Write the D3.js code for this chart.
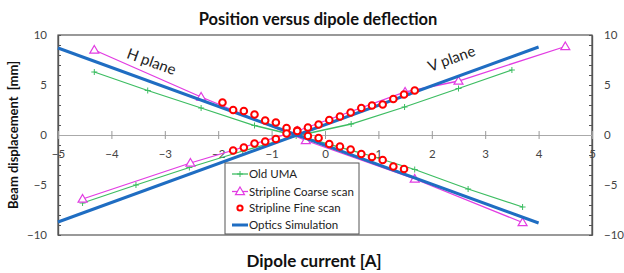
<!DOCTYPE html>
<html>
<head>
<meta charset="utf-8">
<script src="https://cdn.jsdelivr.net/npm/d3@7"></script>
<style>
  body { margin: 0; background: #fff; }
  svg { display: block; font-family: Lato, "Open Sans", sans-serif; }
</style>
</head>
<body>
<svg id="chart" width="624" height="273"></svg>
<script>
// Optics simulation (two straight lines)
const simX = [-5, 4];
const simH = [8.7, -8.8];
const simV = [-8.7, 8.8];

// Old UMA
const umaHX = [-4.32, -3.32, -2.32, -1.32, -0.32, 0.68, 1.68, 2.68, 3.7];
const umaH = [6.3, 4.45, 2.7, 0.95, -0.35, -1.8, -3.45, -5.4, -7.2];
const umaVX = [-4.54, -3.54, -2.54, -1.54, -0.54, 0.49, 1.49, 2.5, 3.5];
const umaV = [-6.8, -5.0, -3.25, -1.6, -0.1, 1.1, 2.8, 4.65, 6.5];

// Stripline coarse scan
const coarseHX = [-4.32, -2.32, -0.36, 1.68, 3.7];
const coarseH = [8.5, 3.8, -0.55, -4.4, -8.75];
const coarseVX = [-4.54, -2.52, -0.52, 1.5, 2.5, 4.5];
const coarseV = [-6.4, -2.8, 0.4, 4.3, 5.4, 8.85];

// Stripline fine scan
const fineHX = [-1.92, -1.72, -1.52, -1.32, -1.12, -0.92, -0.72, -0.52, -0.32,
                -0.12, 0.08, 0.28, 0.48, 0.68, 0.88, 1.08, 1.28, 1.48];
const fineH = [3.25, 2.5, 2.4, 2.05, 1.45, 1.25, 0.7, 0.45, -0.1,
               -0.3, -0.9, -1.15, -1.45, -1.9, -2.2, -2.5, -3.15, -3.4];
const fineVX = [-1.72, -1.52, -1.32, -1.12, -0.92, -0.72, -0.52, -0.32, -0.12,
                0.08, 0.28, 0.48, 0.68, 0.88, 1.08, 1.28, 1.48, 1.68];
const fineV = [-1.55, -1.25, -0.85, -0.65, -0.4, 0.15, 0.4, 0.75, 1.05,
               1.5, 1.85, 2.25, 2.7, 2.95, 3.05, 3.6, 4.05, 4.45];

const xTicks = [-5, -4, -3, -2, -1, 0, 1, 2, 3, 4, 5];
const yTicks = [-10, -5, 0, 5, 10];
const yMinor = d3.range(-10, 11, 1);

const legendNames = ["Old UMA", "Stripline Coarse scan", "Stripline Fine scan", "Optics Simulation"];

const GREEN = "#3dbd62", MAGENTA = "#e23ce2", RED = "#ff0000", BLUE = "#1f6dc2";

const plot = { left: 58, right: 592, top: 35, bottom: 235 };

const svg = d3.select("#chart");
const x = d3.scaleLinear().domain([-5, 5]).range([plot.left, plot.right]);
const y = d3.scaleLinear().domain([-10, 10]).range([plot.bottom, plot.top]);

const zip = (xs, ys) => xs.map((v, i) => [v, ys[i]]);
const line = d3.line().x(d => x(d[0])).y(d => y(d[1]));

// Title
svg.append("text")
    .attr("x", 318).attr("y", 25)
    .attr("text-anchor", "middle")
    .attr("font-size", 16.5).attr("font-weight", "bold")
    .attr("fill", "#111")
    .text("Position versus dipole deflection");

// Frame
svg.append("rect")
    .attr("x", plot.left).attr("y", plot.top)
    .attr("width", plot.right - plot.left).attr("height", plot.bottom - plot.top)
    .attr("fill", "none").attr("stroke", "#555").attr("stroke-width", 1.2);

// Left axis: minor ticks inside, labels at multiples of 5
function styleAxis(g) {
    g.select(".domain").attr("stroke", "#555").attr("stroke-width", 1.2);
    g.selectAll(".tick line").attr("stroke", "#555");
    g.selectAll("text").attr("font-size", 11.5).attr("fill", "#444")
        .attr("font-family", "Lato, 'Open Sans', sans-serif");
}
svg.append("g").attr("transform", `translate(${plot.left},0)`)
    .call(d3.axisLeft(y).tickValues(yMinor).tickFormat("").tickSizeInner(-3).tickSizeOuter(0))
    .call(styleAxis);
svg.append("g").attr("transform", `translate(${plot.left},0)`)
    .call(d3.axisLeft(y).tickValues(yTicks).tickSizeInner(0).tickSizeOuter(0).tickPadding(11))
    .call(styleAxis);
svg.append("g").attr("transform", `translate(${plot.right},0)`)
    .call(d3.axisRight(y).tickValues(yMinor).tickFormat("").tickSizeInner(-3).tickSizeOuter(0))
    .call(styleAxis);
svg.append("g").attr("transform", `translate(${plot.right},0)`)
    .call(d3.axisRight(y).tickValues(yTicks).tickSizeInner(0).tickSizeOuter(0).tickPadding(12))
    .call(styleAxis);

// X axis through y = 0
const xAxis = svg.append("g").attr("transform", `translate(0,${y(0)})`)
    .call(d3.axisBottom(x).tickValues(xTicks).tickSizeInner(4).tickSizeOuter(0).tickPadding(11));
xAxis.select(".domain").attr("stroke", "#aaa").attr("stroke-width", 1.2);
xAxis.selectAll(".tick line").attr("stroke", "#999").attr("y1", -4).attr("y2", 4);
xAxis.selectAll("text").attr("font-size", 11.5).attr("fill", "#444")
    .attr("font-family", "Lato, 'Open Sans', sans-serif");

// Axis titles
svg.append("text")
    .attr("transform", `translate(18,${y(0)}) rotate(-90)`)
    .attr("text-anchor", "middle")
    .attr("font-size", 13).attr("font-weight", "bold").attr("fill", "#111")
    .attr("xml:space", "preserve")
    .text("Beam displacement  [mm]");
svg.append("text")
    .attr("x", 314).attr("y", 267)
    .attr("text-anchor", "middle")
    .attr("font-size", 17).attr("font-weight", "bold").attr("fill", "#111")
    .text("Dipole current [A]");

// Old UMA
const plus = "M-3,0H3M0,-3V3";
const gUma = svg.append("g");
[zip(umaHX, umaH), zip(umaVX, umaV)].forEach(pts => {
    gUma.append("path").datum(pts).attr("d", line)
        .attr("fill", "none").attr("stroke", GREEN).attr("stroke-width", 1.3);
    gUma.selectAll(null).data(pts).join("path")
        .attr("d", plus)
        .attr("transform", d => `translate(${x(d[0])},${y(d[1])})`)
        .attr("fill", "none").attr("stroke", GREEN).attr("stroke-width", 1);
});

// Stripline coarse scan
const triangle = "M0,-4.5L4.5,3.2L-4.5,3.2Z";
const gCoarse = svg.append("g");
[zip(coarseHX, coarseH), zip(coarseVX, coarseV)].forEach(pts => {
    gCoarse.append("path").datum(pts).attr("d", line)
        .attr("fill", "none").attr("stroke", MAGENTA).attr("stroke-width", 1.3);
    gCoarse.selectAll(null).data(pts).join("path")
        .attr("d", triangle)
        .attr("transform", d => `translate(${x(d[0])},${y(d[1])})`)
        .attr("fill", "#fff").attr("stroke", MAGENTA).attr("stroke-width", 1.2);
});

// Optics simulation
[zip(simX, simH), zip(simX, simV)].forEach(pts => {
    svg.append("path").datum(pts).attr("d", line)
        .attr("fill", "none").attr("stroke", BLUE).attr("stroke-width", 3);
});

// Stripline fine scan
[zip(fineHX, fineH), zip(fineVX, fineV)].forEach(pts => {
    svg.append("g").selectAll("circle").data(pts).join("circle")
        .attr("cx", d => x(d[0])).attr("cy", d => y(d[1])).attr("r", 3.3)
        .attr("fill", "#fff").attr("stroke", RED).attr("stroke-width", 2);
});

// Plane labels
svg.append("text")
    .attr("transform", "translate(151,63) rotate(20)")
    .attr("text-anchor", "middle").attr("dominant-baseline", "middle")
    .attr("font-size", 15).attr("fill", "#222")
    .text("H plane");
svg.append("text")
    .attr("transform", "translate(452,60) rotate(-20)")
    .attr("text-anchor", "middle").attr("dominant-baseline", "middle")
    .attr("font-size", 15).attr("fill", "#222")
    .text("V plane");

// Legend
const legend = svg.append("g").attr("transform", "translate(225,163)");
legend.append("rect").attr("width", 134).attr("height", 71)
    .attr("fill", "#fff").attr("stroke", "#555").attr("stroke-width", 1);
const rowY = [11, 28.5, 45, 62];
legendNames.forEach((name, i) => {
    const row = legend.append("g").attr("transform", `translate(0,${rowY[i]})`);
    if (i === 0) {
        row.append("line").attr("x1", 7).attr("x2", 23).attr("stroke", GREEN).attr("stroke-width", 1.3);
        row.append("path").attr("d", plus).attr("transform", "translate(15,0)")
            .attr("fill", "none").attr("stroke", GREEN).attr("stroke-width", 1);
    } else if (i === 1) {
        row.append("line").attr("x1", 7).attr("x2", 23).attr("stroke", MAGENTA).attr("stroke-width", 1.3);
        row.append("path").attr("d", triangle).attr("transform", "translate(15,0)")
            .attr("fill", "#fff").attr("stroke", MAGENTA).attr("stroke-width", 1.2);
    } else if (i === 2) {
        row.append("circle").attr("cx", 15).attr("r", 2.6)
            .attr("fill", "#fff").attr("stroke", RED).attr("stroke-width", 2);
    } else {
        row.append("line").attr("x1", 7).attr("x2", 23).attr("stroke", BLUE).attr("stroke-width", 3);
    }
    row.append("text").attr("x", 24).attr("dy", "0.35em")
        .attr("font-size", 11.5).attr("fill", "#222")
        .text(name);
});
</script>
</body>
</html>
